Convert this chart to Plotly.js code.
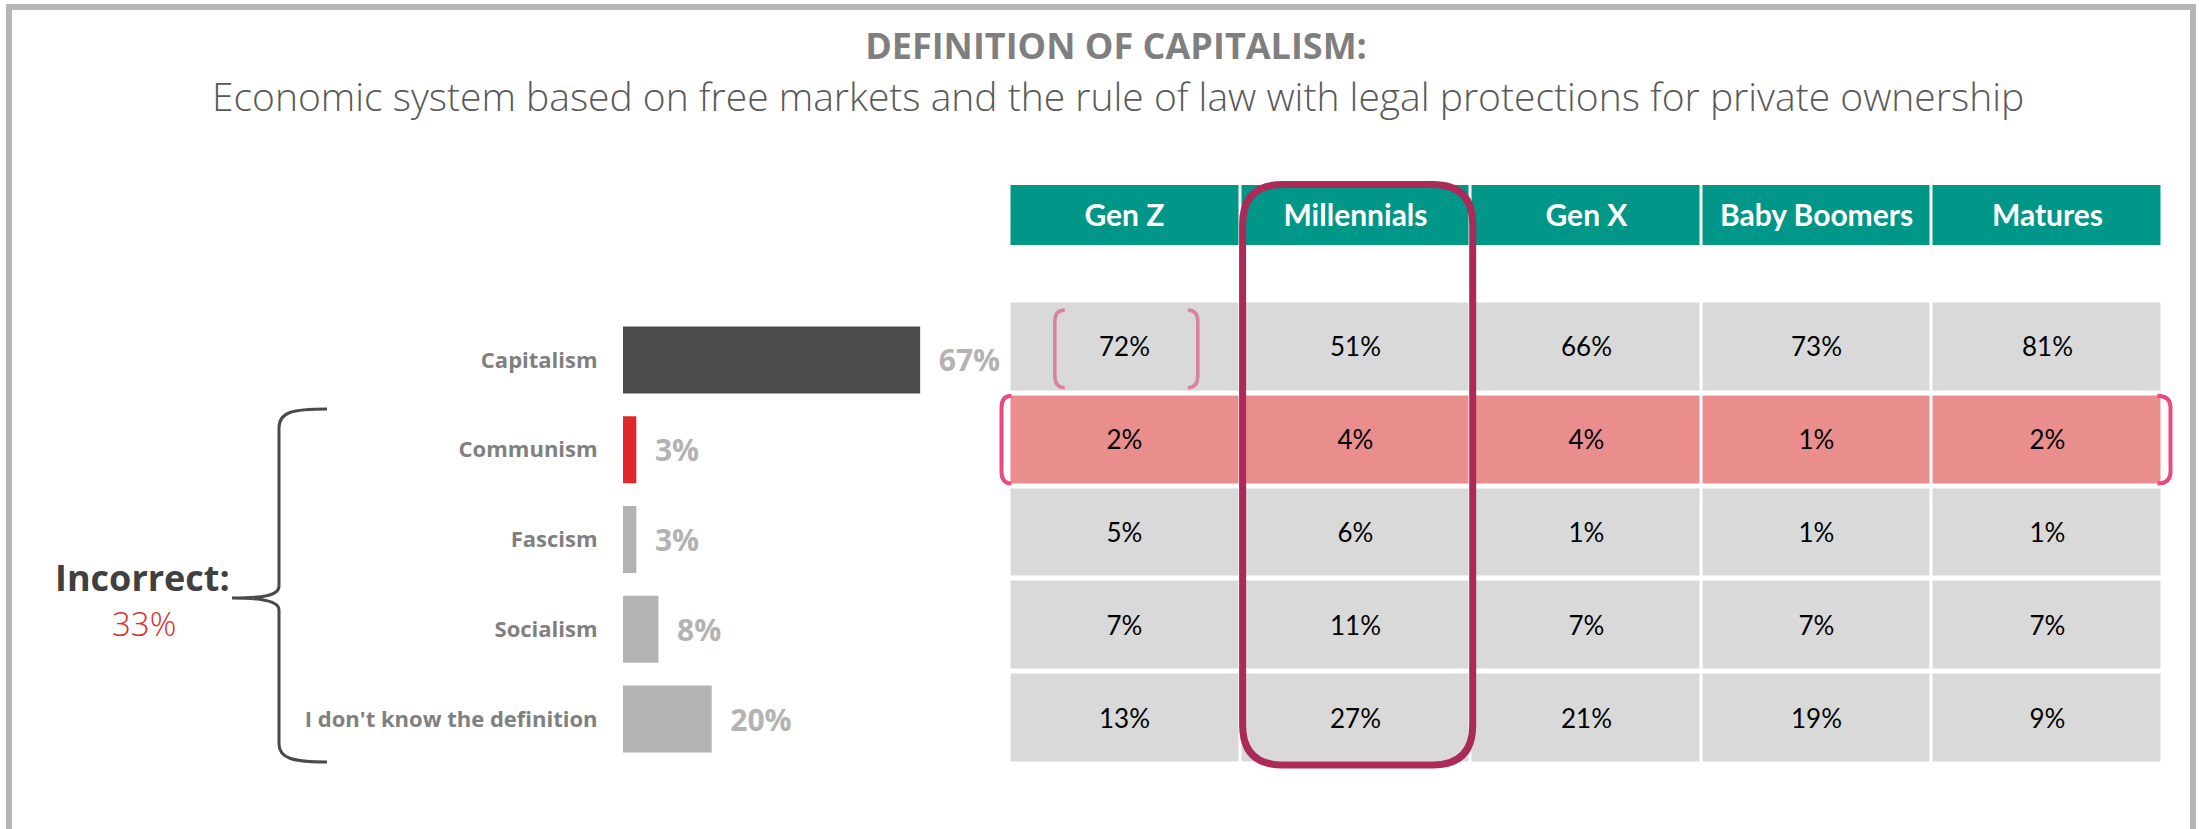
<!DOCTYPE html>
<html>
<head>
<meta charset="utf-8">
<script src="https://cdn.plot.ly/plotly-3.0.1.min.js"></script>
<style>html,body{margin:0;padding:0;background:#fff;}#chart{width:2199px;height:829px;}</style>
</head>
<body>
<div id="chart"></div>
<script>
// ---------- DATA ----------
const answers = ['Capitalism', 'Communism', 'Fascism', 'Socialism', "I don't know the definition"];
const overall = [67, 3, 3, 8, 20];
const generations = ['Gen Z', 'Millennials', 'Gen X', 'Baby Boomers', 'Matures'];
const genZ = [72, 2, 5, 7, 13];
const millennials = [51, 4, 6, 11, 27];
const genX = [66, 4, 1, 7, 21];
const babyBoomers = [73, 1, 1, 7, 19];
const matures = [81, 2, 1, 7, 9];
const incorrectTotal = 33;
const highlightedAnswer = 'Communism';
const highlightedGeneration = 'Millennials';
const titleText = 'DEFINITION OF CAPITALISM:';
const subtitleText = 'Economic system based on free markets and the rule of law with legal protections for private ownership';

// ---------- STYLE / GEOMETRY ----------
const W = 2199, H = 829;
const px = x => x / W;
const py = y => 1 - y / H;
const P = (x, y) => px(x) + ',' + py(y);

const barColors = ['#4d4d4d', '#e0282c', '#b3b3b3', '#b3b3b3', '#b3b3b3'];
const BAR_X0 = 623, BAR_X1 = 1000, BAR_RANGE = 85;
const BAR_Y0 = 315, BAR_Y1 = 764;
const TBL_X0 = 1009.5, TBL_X1 = 2162.5;
const HDR_Y0 = 185, HDR_Y1 = 245;
const BODY_Y0 = 300.5, BODY_Y1 = 764.5;
const colW = (TBL_X1 - TBL_X0) / generations.length;
const rowH = (BODY_Y1 - BODY_Y0) / answers.length;

const seriesByGen = [genZ, millennials, genX, babyBoomers, matures];
const zBody = answers.map(a => generations.map(() => (a === highlightedAnswer ? 1 : 0)));
const tBody = answers.map((a, i) => seriesByGen.map(s => s[i]));

const barTrace = {
  type: 'bar', orientation: 'h',
  x: overall, y: answers,
  xaxis: 'x', yaxis: 'y',
  width: 0.746,
  marker: { color: barColors, line: { width: 0 } },
  texttemplate: '\u00a0\u00a0%{x}%',
  textposition: 'outside',
  constraintext: 'none',
  cliponaxis: false,
  textfont: { family: 'Open Sans', size: 30, color: '#b3b3b3', weight: 700 },
  hoverinfo: 'skip'
};

const bodyTrace = {
  type: 'heatmap',
  x: generations, y: answers, z: zBody, text: tBody,
  xaxis: 'x2', yaxis: 'y2',
  zmin: 0, zmax: 1,
  colorscale: [[0, '#d9d9d9'], [1, '#e98d8d']],
  showscale: false,
  xgap: 3, ygap: 5,
  texttemplate: '%{text}%',
  textfont: { family: 'Lato', size: 26, color: '#000000' },
  hoverinfo: 'skip'
};

const headerTrace = {
  type: 'heatmap',
  x: generations, y: ['header'], z: [generations.map(() => 1)], text: [generations],
  xaxis: 'x2', yaxis: 'y3',
  zmin: 0, zmax: 1,
  colorscale: [[0, '#009688'], [1, '#009688']],
  showscale: false,
  xgap: 3,
  texttemplate: '%{text}',
  textfont: { family: 'Lato', size: 30, color: '#ffffff', weight: 700 },
  hoverinfo: 'skip'
};

// ---------- SHAPES ----------
function roundRect(x0, y0, x1, y1, r) {
  return `M ${P(x0 + r, y0)} L ${P(x1 - r, y0)} Q ${P(x1, y0)} ${P(x1, y0 + r)} L ${P(x1, y1 - r)} Q ${P(x1, y1)} ${P(x1 - r, y1)} L ${P(x0 + r, y1)} Q ${P(x0, y1)} ${P(x0, y1 - r)} L ${P(x0, y0 + r)} Q ${P(x0, y0)} ${P(x0 + r, y0)} Z`;
}
function bracket(xEnd, xOut, y0, y1, r) {
  return `M ${P(xEnd, y0)} Q ${P(xOut, y0)} ${P(xOut, y0 + r)} L ${P(xOut, y1 - r)} Q ${P(xOut, y1)} ${P(xEnd, y1)}`;
}

const hiCol = generations.indexOf(highlightedGeneration);
const hiRow = answers.indexOf(highlightedAnswer);
const rowTop = i => BODY_Y0 + rowH * i + 2.5;
const rowBot = i => BODY_Y0 + rowH * (i + 1) - 2.5;
const genZc = TBL_X0 + colW * 0.5;

const shapes = [
  // outer frame
  { type: 'rect', xref: 'paper', yref: 'paper', x0: px(9), x1: px(2193), y0: py(7), y1: py(1000),
    line: { color: '#b5b5b5', width: 6 }, fillcolor: 'rgba(0,0,0,0)', layer: 'below' },
  // highlighted row brackets
  { type: 'path', xref: 'paper', yref: 'paper', path: bracket(TBL_X0 + 2, TBL_X0 - 8, rowTop(hiRow), rowBot(hiRow), 12),
    line: { color: '#ea4a7e', width: 4 } },
  { type: 'path', xref: 'paper', yref: 'paper', path: bracket(TBL_X1 - 5, TBL_X1 + 8, rowTop(hiRow), rowBot(hiRow), 12),
    line: { color: '#ea4a7e', width: 4 } },
  // Gen Z capitalism brackets
  { type: 'path', xref: 'paper', yref: 'paper', path: bracket(genZc - 60, genZc - 70, rowTop(0) + 7, rowBot(0) - 3, 12),
    line: { color: '#d9839c', width: 3.5 } },
  { type: 'path', xref: 'paper', yref: 'paper', path: bracket(genZc + 63, genZc + 73, rowTop(0) + 7, rowBot(0) - 3, 12),
    line: { color: '#d9839c', width: 3.5 } },
  // highlighted column
  { type: 'path', xref: 'paper', yref: 'paper',
    path: roundRect(TBL_X0 + colW * hiCol + 2.5, HDR_Y0 - 0.5, TBL_X0 + colW * (hiCol + 1) + 2, BODY_Y1 + 0.5, 40),
    line: { color: '#ac2a58', width: 7 } },
  // curly brace
  { type: 'path', xref: 'paper', yref: 'paper',
    path: `M ${P(327, 409)} C ${P(292, 409)} ${P(279, 412)} ${P(279, 428)} L ${P(279, 586)} C ${P(279, 596)} ${P(262, 598)} ${P(232, 598)} C ${P(262, 598)} ${P(279, 601)} ${P(279, 610)} L ${P(279, 744)} C ${P(279, 758)} ${P(292, 762)} ${P(327, 762)}`,
    line: { color: '#4a4a4a', width: 3 } }
];

const annotations = [
  { text: subtitleText, xref: 'paper', yref: 'paper', x: px(1118), y: py(95), xanchor: 'center', yanchor: 'middle',
    showarrow: false, font: { family: 'Open Sans', size: 39, color: '#595959', weight: 300 } },
  { text: 'Incorrect:', xref: 'paper', yref: 'paper', x: px(142), y: py(577), xanchor: 'center', yanchor: 'middle',
    showarrow: false, font: { family: 'Open Sans', size: 36, color: '#404040', weight: 700 } },
  { text: incorrectTotal + '%', xref: 'paper', yref: 'paper', x: px(144), y: py(623), xanchor: 'center', yanchor: 'middle',
    showarrow: false, font: { family: 'Open Sans', size: 33, color: '#e02b2b', weight: 300 } }
];

const noTicks = { showgrid: false, zeroline: false, showticklabels: false, showline: false, ticks: '', fixedrange: true };

const layout = {
  width: W, height: H,
  margin: { l: 0, r: 0, t: 0, b: 0, pad: 0 },
  paper_bgcolor: '#ffffff', plot_bgcolor: '#ffffff',
  showlegend: false,
  title: { text: titleText, x: px(1116), xanchor: 'center', y: py(46), yanchor: 'middle', yref: 'container',
    font: { family: 'Open Sans', size: 36, color: '#7f7f7f', weight: 700 } },
  xaxis: Object.assign({ domain: [px(BAR_X0), px(BAR_X1)], range: [0, BAR_RANGE] }, noTicks),
  yaxis: { domain: [py(BAR_Y1), py(BAR_Y0)], type: 'category', categoryarray: answers, range: [answers.length - 0.5, -0.5],
    showgrid: false, zeroline: false, showline: false, ticks: 'outside', ticklen: 20, tickcolor: 'rgba(0,0,0,0)',
    tickfont: { family: 'Open Sans', size: 22, color: '#808080', weight: 700 }, fixedrange: true },
  xaxis2: Object.assign({ domain: [px(TBL_X0), px(TBL_X1)], anchor: 'y2', type: 'category', categoryarray: generations,
    range: [-0.5, generations.length - 0.5] }, noTicks),
  yaxis2: Object.assign({ domain: [py(BODY_Y1), py(BODY_Y0)], anchor: 'x2', type: 'category', categoryarray: answers,
    range: [answers.length - 0.5, -0.5] }, noTicks),
  yaxis3: Object.assign({ domain: [py(HDR_Y1), py(HDR_Y0)], anchor: 'x2', type: 'category', range: [-0.5, 0.5] }, noTicks),
  shapes: shapes,
  annotations: annotations
};

Plotly.newPlot('chart', [barTrace, bodyTrace, headerTrace], layout, { staticPlot: true, displayModeBar: false });
</script>
</body>
</html>
